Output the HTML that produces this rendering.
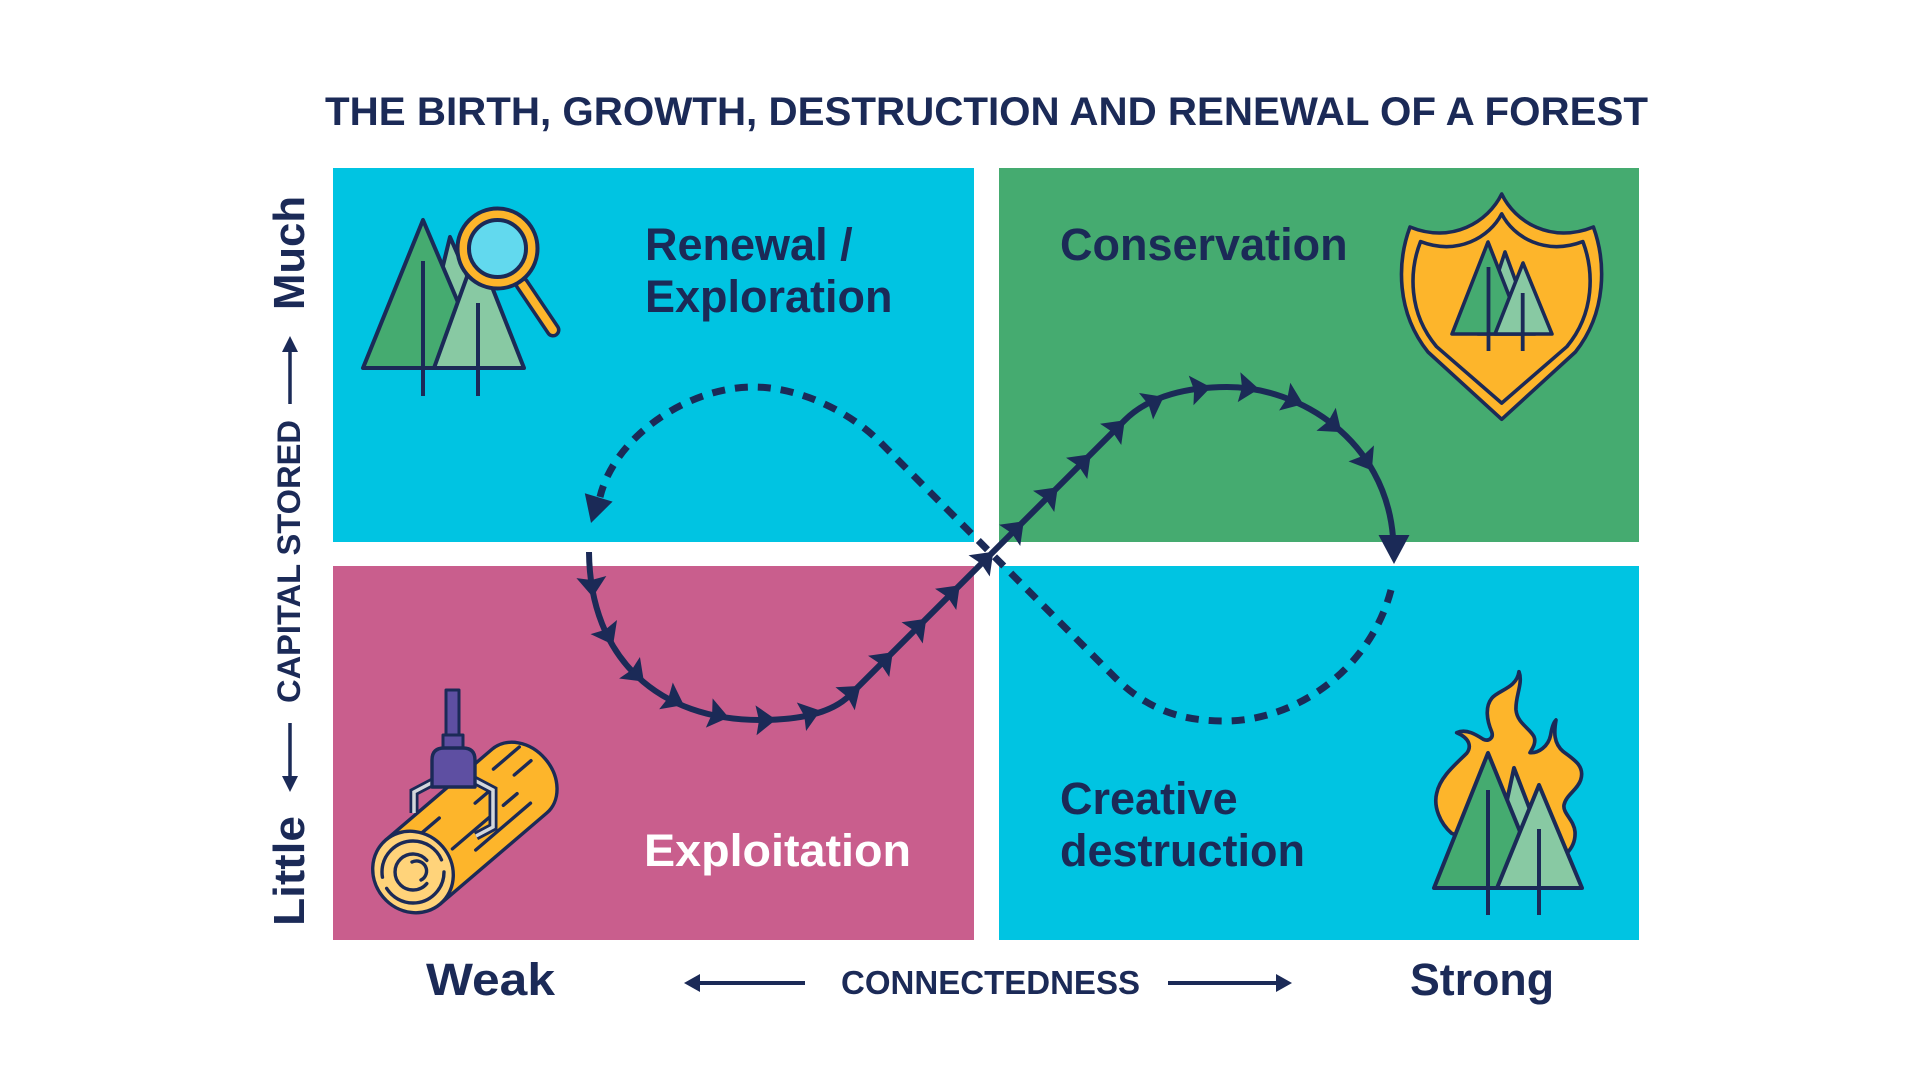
<!DOCTYPE html>
<html>
<head>
<meta charset="utf-8">
<style>
html,body{margin:0;padding:0;background:#fff;}
svg{display:block;}
text{font-family:"Liberation Sans",Arial,sans-serif;font-weight:bold;fill:#1B2A57;}
</style>
</head>
<body>
<svg width="1921" height="1080" viewBox="0 0 1921 1080" xmlns="http://www.w3.org/2000/svg">
<rect width="1921" height="1080" fill="#fff"/>

<!-- Title -->
<text x="325" y="125" font-size="40" textLength="1323" lengthAdjust="spacingAndGlyphs">THE BIRTH, GROWTH, DESTRUCTION AND RENEWAL OF A FOREST</text>

<!-- Quadrants -->
<rect x="333" y="168" width="641" height="374" fill="#00C4E2"/>
<rect x="999" y="168" width="640" height="374" fill="#45AB70"/>
<rect x="333" y="566" width="641" height="374" fill="#C95E8D"/>
<rect x="999" y="566" width="640" height="374" fill="#00C4E2"/>

<!-- Quadrant labels -->
<text x="645" y="260" font-size="45">Renewal /</text>
<text x="645" y="312" font-size="45">Exploration</text>
<text x="1060" y="260" font-size="45">Conservation</text>
<text x="1060" y="814" font-size="45">Creative</text>
<text x="1060" y="866" font-size="45">destruction</text>
<text x="644" y="866" font-size="45" style="fill:#fff" textLength="267" lengthAdjust="spacingAndGlyphs">Exploitation</text>

<!-- Left axis -->
<text transform="translate(304,253) rotate(-90)" text-anchor="middle" font-size="44" textLength="114" lengthAdjust="spacingAndGlyphs">Much</text>
<text transform="translate(300,561.5) rotate(-90)" text-anchor="middle" font-size="32" textLength="283" lengthAdjust="spacingAndGlyphs">CAPITAL STORED</text>
<text transform="translate(304,871) rotate(-90)" text-anchor="middle" font-size="44" textLength="110" lengthAdjust="spacingAndGlyphs">Little</text>
<line x1="290" y1="404" x2="290" y2="348" stroke="#1B2A57" stroke-width="3.5"/>
<polygon points="290,336 282,352 298,352" fill="#1B2A57"/>
<line x1="290" y1="723" x2="290" y2="780" stroke="#1B2A57" stroke-width="3.5"/>
<polygon points="290,792 282,776 298,776" fill="#1B2A57"/>

<!-- Bottom axis -->
<text x="426" y="995" font-size="45" textLength="129" lengthAdjust="spacingAndGlyphs">Weak</text>
<text x="841" y="994" font-size="33" textLength="299" lengthAdjust="spacingAndGlyphs">CONNECTEDNESS</text>
<text x="1410" y="995" font-size="45" textLength="144" lengthAdjust="spacingAndGlyphs">Strong</text>
<line x1="696" y1="983" x2="805" y2="983" stroke="#1B2A57" stroke-width="4"/>
<polygon points="684,983 700,974 700,992" fill="#1B2A57"/>
<line x1="1168" y1="983" x2="1280" y2="983" stroke="#1B2A57" stroke-width="4"/>
<polygon points="1292,983 1276,974 1276,992" fill="#1B2A57"/>

<!-- Dashed curve -->
<path d="M1391,590 C1370,670 1295,721 1225,721 C1185,721 1150,712 1115,677.5 L880,442 C850,412 800,387 753,387 C690,387 615,435 600,497" fill="none" stroke="#1B2A57" stroke-width="7" stroke-dasharray="13 10"/>
<polygon points="591,523 584.8,493.2 612.6,501.6" fill="#1B2A57"/>

<!-- Solid curve -->
<path d="M589,552 C590,660 660,720 760,720 C795,720 830,715 850,695 L1125,420 C1150,395 1190,387 1227,387 C1300,387 1385,440 1393,537" fill="none" stroke="#1B2A57" stroke-width="6"/>
<polygon points="1394,564 1378.5,535 1409.5,535" fill="#1B2A57"/>

<g fill="#1B2A57">
<path d="M11,0 L-9,-15 L-6,0 L-9,15 Z" transform="translate(592,586) rotate(86)"/>
<path d="M11,0 L-9,-15 L-6,0 L-9,15 Z" transform="translate(608,635) rotate(62)"/>
<path d="M11,0 L-9,-15 L-6,0 L-9,15 Z" transform="translate(636,674) rotate(44)"/>
<path d="M11,0 L-9,-15 L-6,0 L-9,15 Z" transform="translate(674,700) rotate(27)"/>
<path d="M11,0 L-9,-15 L-6,0 L-9,15 Z" transform="translate(718,715) rotate(13)"/>
<path d="M11,0 L-9,-15 L-6,0 L-9,15 Z" transform="translate(765,720) rotate(-2)"/>
<path d="M11,0 L-9,-15 L-6,0 L-9,15 Z" transform="translate(810,714) rotate(-18)"/>
<path d="M11,0 L-9,-15 L-6,0 L-9,15 Z" transform="translate(852,693) rotate(-40)"/>
<path d="M11,0 L-9,-15 L-6,0 L-9,15 Z" transform="translate(885,660) rotate(-45)"/>
<path d="M11,0 L-9,-15 L-6,0 L-9,15 Z" transform="translate(918.5,626.5) rotate(-45)"/>
<path d="M11,0 L-9,-15 L-6,0 L-9,15 Z" transform="translate(952,593) rotate(-45)"/>
<path d="M11,0 L-9,-15 L-6,0 L-9,15 Z" transform="translate(985.5,559.5) rotate(-45)"/>
<path d="M11,0 L-9,-15 L-6,0 L-9,15 Z" transform="translate(1016,529) rotate(-45)"/>
<path d="M11,0 L-9,-15 L-6,0 L-9,15 Z" transform="translate(1050,495) rotate(-45)"/>
<path d="M11,0 L-9,-15 L-6,0 L-9,15 Z" transform="translate(1083,462) rotate(-45)"/>
<path d="M11,0 L-9,-15 L-6,0 L-9,15 Z" transform="translate(1117,428) rotate(-45)"/>
<path d="M11,0 L-9,-15 L-6,0 L-9,15 Z" transform="translate(1154,402) rotate(-28)"/>
<path d="M11,0 L-9,-15 L-6,0 L-9,15 Z" transform="translate(1200,389) rotate(-9)"/>
<path d="M11,0 L-9,-15 L-6,0 L-9,15 Z" transform="translate(1248,388) rotate(5)"/>
<path d="M11,0 L-9,-15 L-6,0 L-9,15 Z" transform="translate(1293,400) rotate(22)"/>
<path d="M11,0 L-9,-15 L-6,0 L-9,15 Z" transform="translate(1333,425) rotate(40)"/>
<path d="M11,0 L-9,-15 L-6,0 L-9,15 Z" transform="translate(1366,461) rotate(58)"/>
</g>

<!-- TL icon: trees + magnifier -->
<g stroke="#1B2A57" stroke-width="4" stroke-linejoin="round" stroke-linecap="round">
  <path d="M450,237 L418,368 L508,368 Z" fill="#88C9A3"/>
  <path d="M423,220 L363,368 L486,368 Z" fill="#45AB70"/>
  <path d="M477,249 L434,368 L524,368 Z" fill="#88C9A3"/>
  <line x1="423" y1="261" x2="423" y2="396" stroke-linecap="butt"/>
  <line x1="478" y1="303" x2="478" y2="396" stroke-linecap="butt"/>
  <line x1="522" y1="284" x2="553" y2="330" stroke-width="15"/>
  <line x1="522" y1="284" x2="553" y2="330" stroke="#FDB52B" stroke-width="8"/>
  <circle cx="497.5" cy="248.5" r="40" fill="#FDB52B"/>
  <circle cx="497.5" cy="248.5" r="28.5" fill="#62D9EE"/>
</g>

<!-- Shield icon -->
<g stroke="#1B2A57" stroke-width="3.6" stroke-linejoin="round">
  <path d="M1501.7,194 C1488,222 1452,244 1410,227 C1397,262 1396,312 1428,352 L1501.7,419.3 L1575.4,352 C1607,312 1606,262 1593.4,227 C1551,244 1515,222 1501.7,194 Z" fill="#FDB52B"/>
  <path d="M1501.7,194 C1488,222 1452,244 1410,227 C1397,262 1396,312 1428,352 L1501.7,419.3 L1575.4,352 C1607,312 1606,262 1593.4,227 C1551,244 1515,222 1501.7,194 Z" fill="#FDB52B" vector-effect="non-scaling-stroke" transform="translate(1501.7,318) scale(0.885,0.84) translate(-1501.7,-318)"/>
  <path d="M1505,252 L1478,334 L1535,334 Z" fill="#88C9A3"/>
  <path d="M1488,242 L1452,334 L1524,334 Z" fill="#45AB70"/>
  <path d="M1523,263 L1495,334 L1552,334 Z" fill="#88C9A3"/>
  <line x1="1488.5" y1="267" x2="1488.5" y2="351" stroke-width="3.8"/>
  <line x1="1522.7" y1="293" x2="1522.7" y2="351" stroke-width="3.8"/>
</g>

<!-- Fire icon -->
<g transform="translate(1420,660) scale(0.33333)">
  <path d="M95,520 C60,490 40,440 50,400 C60,350 110,310 140,280 C155,260 150,235 110,218 C140,205 170,225 190,238 C205,245 222,235 215,215 C200,180 195,140 215,115 C235,90 290,85 297,35 C310,70 285,110 288,150 C292,190 330,205 342,230 C350,250 335,268 330,278 C355,280 385,260 392,225 C395,205 400,188 408,180 C402,215 400,250 430,275 C465,300 495,320 482,360 C472,390 438,405 432,435 C428,460 462,480 465,515 C467,545 455,565 440,580 L300,600 Z" fill="#FDB52B" stroke="#1B2A57" stroke-width="11" stroke-linejoin="round"/>
</g>
<g stroke="#1B2A57" stroke-width="4" stroke-linejoin="round">
  <path d="M1514,768 L1488,888 L1560,888 Z" fill="#88C9A3"/>
  <path d="M1488,753 L1434,888 L1543,888 Z" fill="#45AB70"/>
  <path d="M1539,785 L1497,888 L1582,888 Z" fill="#88C9A3"/>
  <line x1="1488" y1="790" x2="1488" y2="915"/>
  <line x1="1539" y1="829" x2="1539" y2="915"/>
</g>

<!-- Log icon -->
<g stroke="#1B2A57" stroke-width="3.4" stroke-linejoin="round" stroke-linecap="round">
  <g transform="translate(413,872) rotate(-40.5)">
    <path d="M0,-42 L140,-42 A34,42 0 0 1 140,42 L0,42 Z" fill="#FDB52B"/>
    <path d="M22,-24 L55,-24 M92,-12 L112,-12 M128,-26 L162,-26 M140,-8 L162,-8 M45,8 L100,8 M62,24 L134,24 M112,8 L130,8" fill="none"/>
    <ellipse cx="0" cy="0" rx="39" ry="42" fill="#FFD37A"/>
  </g>
  <circle cx="413" cy="872" r="31" fill="none" stroke-dasharray="80 12 90 14"/>
  <path d="M426.8,860.4 A18,18 0 1 0 426.8,883.6" fill="none"/>
  <path d="M412,862 A10,10 0 0 1 421,880" fill="none"/>
  <!-- gripper -->
  <polyline points="433,782 414,792 414,813" fill="none" stroke-width="9" stroke-linejoin="miter" stroke-linecap="butt"/>
  <polyline points="433,782 414,792 414,813" fill="none" stroke="#D4D7DB" stroke-width="3.5" stroke-linejoin="miter" stroke-linecap="butt"/>
  <polyline points="474,780 493,790 493,827 476,836" fill="none" stroke-width="9" stroke-linejoin="miter" stroke-linecap="butt"/>
  <polyline points="474,780 493,790 493,827 476,836" fill="none" stroke="#D4D7DB" stroke-width="3.5" stroke-linejoin="miter" stroke-linecap="butt"/>
  <rect x="446" y="690" width="13" height="46" fill="#5E4FA2" stroke-width="3"/>
  <rect x="443" y="735" width="20" height="13" fill="#5E4FA2" stroke-width="3"/>
  <path d="M432,787 L432,760 Q432,748 444,748 L463,748 Q475,748 475,760 L475,787 Z" fill="#5E4FA2"/>
</g>

</svg>
</body>
</html>
